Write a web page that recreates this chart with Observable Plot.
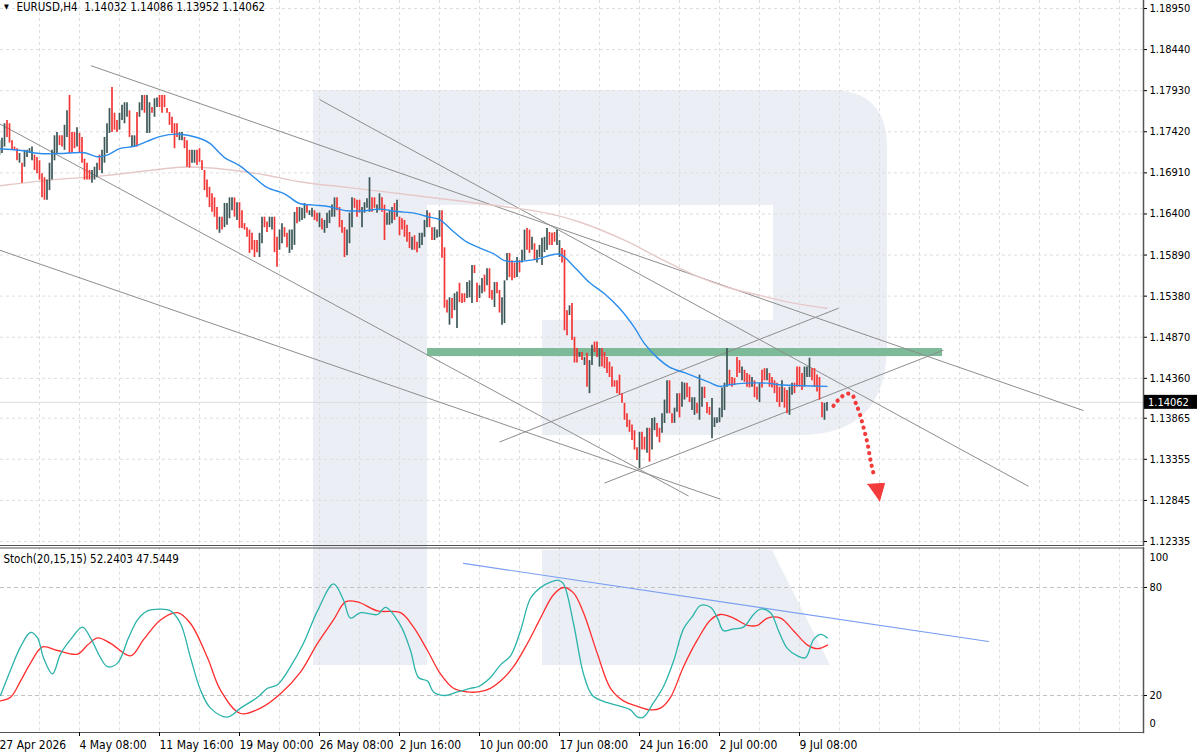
<!DOCTYPE html>
<html><head><meta charset="utf-8">
<script src="https://cdn.jsdelivr.net/npm/d3@7"></script>
<script src="https://cdn.jsdelivr.net/npm/@observablehq/plot@0.6"></script>
<style>
html,body{margin:0;padding:0;background:#fff;}
#wrap{position:relative;width:1200px;height:756px;overflow:hidden;background:#fff;}
#main,#stoch{position:absolute;left:0;}
#main{top:0;z-index:2;} #stoch{top:546px;z-index:1;}
svg{display:block;}
</style></head><body><div id="wrap"><div id="main"></div><div id="stoch"></div></div>
<script>
const FONT = "'DejaVu Sans Condensed','Liberation Sans',sans-serif";

// ---- labels / ticks
const symbol = "EURUSD,H4";
const ohlc = [1.14032, 1.14086, 1.13952, 1.14062];
const lastClose = 1.14062;
const stochParams = [20, 15, 15];
const stochLast = [52.2403, 47.5449];
const timeLabels = ["27 Apr 2026","4 May 08:00","11 May 16:00","19 May 00:00","26 May 08:00","2 Jun 16:00","10 Jun 00:00","17 Jun 08:00","24 Jun 16:00","2 Jul 00:00","9 Jul 08:00"];
const timeTickIdx = [0,32,64,96,128,160,192,224,256,288,320];
const priceTicks = [1.18950,1.18440,1.17930,1.17420,1.16910,1.16400,1.15890,1.15380,1.14870,1.14360,1.13865,1.13355,1.12845,1.12335];
const stochLevels = [80, 20];

// ---- H4 candles (bar index = position), open / close
const opens = [
1.1713,1.1715,1.1723,1.1756,1.1752,1.1731,1.1723,1.1721,1.1703,1.1703,1.1698,1.1710,1.1715,1.1706,1.1713,1.1710,1.1706,1.1690,1.1685,1.1657,1.1669,1.1682,1.1706,1.1715,1.1737,1.1737,1.1719,1.1735,1.1787,1.1741,1.1741,1.1723,
1.1740,1.1735,1.1708,1.1703,1.1694,1.1678,1.1682,1.1685,1.1713,1.1690,1.1703,1.1715,1.1740,1.1797,1.1765,1.1756,1.1744,1.1756,1.1752,1.1760,1.1768,1.1723,1.1723,1.1766,1.1760,1.1768,1.1787,1.1740,1.1740,1.1772,1.1760,1.1772,
1.1787,1.1787,1.1787,1.1771,1.1766,1.1760,1.1752,1.1752,1.1731,1.1731,1.1735,1.1731,1.1719,1.1703,1.1703,1.1719,1.1721,1.1706,1.1694,1.1682,1.1673,1.1665,1.1660,1.1648,1.1616,1.1636,1.1623,1.1626,1.1634,1.1644,1.1660,1.1632,
1.1654,1.1644,1.1628,1.1623,1.1620,1.1616,1.1607,1.1607,1.1586,1.1603,1.1636,1.1630,1.1623,1.1620,1.1636,1.1611,1.1595,1.1603,1.1623,1.1616,1.1591,1.1595,1.1601,1.1648,1.1630,1.1632,1.1634,1.1651,1.1638,1.1636,1.1644,1.1641,
1.1623,1.1634,1.1616,1.1622,1.1628,1.1636,1.1636,1.1660,1.1648,1.1632,1.1623,1.1588,1.1603,1.1623,1.1659,1.1657,1.1657,1.1623,1.1641,1.1647,1.1642,1.1660,1.1660,1.1641,1.1644,1.1660,1.1651,1.1626,1.1626,1.1628,1.1653,1.1636,
1.1636,1.1634,1.1632,1.1626,1.1617,1.1595,1.1613,1.1605,1.1597,1.1601,1.1611,1.1623,1.1641,1.1623,1.1607,1.1610,1.1611,1.1644,1.1598,1.1533,1.1502,1.1535,1.1520,1.1498,1.1554,1.1541,1.1541,1.1535,1.1536,1.1529,1.1576,1.1554,
1.1535,1.1541,1.1564,1.1551,1.1572,1.1545,1.1524,1.1555,1.1545,1.1502,1.1504,1.1557,1.1591,1.1582,1.1579,1.1561,1.1582,1.1579,1.1582,1.1622,1.1620,1.1595,1.1603,1.1579,1.1586,1.1576,1.1592,1.1595,1.1617,1.1616,1.1617,1.1601,
1.1586,1.1597,1.1595,1.1520,1.1514,1.1529,1.1487,1.1473,1.1462,1.1468,1.1452,1.1467,1.1417,1.1452,1.1481,1.1481,1.1450,1.1473,1.1468,1.1462,1.1456,1.1450,1.1433,1.1433,1.1440,1.1417,1.1405,1.1392,1.1384,1.1378,1.1371,1.1350,
1.1324,1.1369,1.1363,1.1343,1.1374,1.1347,1.1371,1.1380,1.1374,1.1368,1.1380,1.1392,1.1433,1.1392,1.1380,1.1394,1.1417,1.1400,1.1409,1.1430,1.1425,1.1396,1.1390,1.1405,1.1384,1.1400,1.1425,1.1406,1.1400,1.1361,1.1375,1.1380,
1.1381,1.1387,1.1396,1.1425,1.1446,1.1437,1.1436,1.1462,1.1458,1.1433,1.1446,1.1442,1.1440,1.1425,1.1433,1.1425,1.1406,1.1446,1.1448,1.1433,1.1442,1.1437,1.1433,1.1430,1.1425,1.1406,1.1424,1.1421,1.1390,1.1415,1.1430,1.1450,
1.1450,1.1442,1.1425,1.1437,1.1437,1.1448,1.1448,1.1440,1.1437,1.1406,1.1384,1.1395];
const closes = [
1.1731,1.1734,1.1752,1.1735,1.1728,1.1719,1.1719,1.1706,1.1715,1.1678,1.1719,1.1719,1.1721,1.1723,1.1694,1.1690,1.1682,1.1660,1.1657,1.1682,1.1703,1.1719,1.1737,1.1741,1.1725,1.1723,1.1750,1.1768,1.1715,1.1716,1.1721,1.1747,
1.1715,1.1703,1.1682,1.1682,1.1682,1.1694,1.1698,1.1703,1.1694,1.1719,1.1735,1.1752,1.1771,1.1741,1.1744,1.1741,1.1765,1.1775,1.1778,1.1778,1.1735,1.1737,1.1737,1.1723,1.1778,1.1787,1.1765,1.1787,1.1778,1.1765,1.1783,1.1784,
1.1772,1.1765,1.1772,1.1765,1.1750,1.1740,1.1721,1.1735,1.1741,1.1741,1.1721,1.1698,1.1697,1.1719,1.1719,1.1700,1.1704,1.1694,1.1669,1.1660,1.1648,1.1642,1.1636,1.1620,1.1636,1.1620,1.1653,1.1653,1.1660,1.1660,1.1636,1.1654,
1.1622,1.1622,1.1620,1.1611,1.1591,1.1595,1.1586,1.1592,1.1616,1.1636,1.1623,1.1617,1.1636,1.1636,1.1592,1.1574,1.1620,1.1628,1.1611,1.1598,1.1620,1.1620,1.1642,1.1628,1.1648,1.1647,1.1653,1.1641,1.1644,1.1647,1.1632,1.1630,
1.1641,1.1620,1.1632,1.1641,1.1644,1.1651,1.1660,1.1644,1.1623,1.1616,1.1586,1.1620,1.1641,1.1660,1.1647,1.1636,1.1641,1.1648,1.1654,1.1659,1.1685,1.1642,1.1647,1.1651,1.1665,1.1642,1.1607,1.1641,1.1644,1.1648,1.1632,1.1657,
1.1613,1.1620,1.1611,1.1605,1.1597,1.1611,1.1595,1.1592,1.1616,1.1616,1.1632,1.1644,1.1623,1.1607,1.1623,1.1620,1.1644,1.1585,1.1523,1.1517,1.1536,1.1510,1.1541,1.1543,1.1530,1.1529,1.1530,1.1555,1.1557,1.1576,1.1566,1.1530,
1.1551,1.1560,1.1543,1.1572,1.1535,1.1533,1.1555,1.1541,1.1517,1.1536,1.1557,1.1591,1.1561,1.1557,1.1560,1.1586,1.1567,1.1595,1.1620,1.1595,1.1591,1.1611,1.1582,1.1595,1.1601,1.1610,1.1611,1.1622,1.1601,1.1601,1.1605,1.1620,
1.1607,1.1579,1.1495,1.1489,1.1526,1.1483,1.1455,1.1455,1.1468,1.1458,1.1462,1.1425,1.1458,1.1477,1.1468,1.1462,1.1473,1.1450,1.1448,1.1442,1.1437,1.1425,1.1425,1.1417,1.1415,1.1405,1.1384,1.1375,1.1369,1.1359,1.1347,1.1334,
1.1369,1.1347,1.1347,1.1374,1.1332,1.1386,1.1387,1.1363,1.1356,1.1392,1.1409,1.1433,1.1392,1.1380,1.1399,1.1417,1.1387,1.1431,1.1430,1.1412,1.1406,1.1412,1.1412,1.1392,1.1440,1.1425,1.1411,1.1392,1.1390,1.1411,1.1387,1.1387,
1.1399,1.1424,1.1430,1.1473,1.1427,1.1425,1.1427,1.1437,1.1442,1.1450,1.1431,1.1425,1.1424,1.1437,1.1412,1.1409,1.1430,1.1424,1.1433,1.1448,1.1425,1.1424,1.1417,1.1406,1.1400,1.1433,1.1399,1.1392,1.1425,1.1430,1.1417,1.1425,
1.1425,1.1421,1.1450,1.1450,1.1461,1.1433,1.1425,1.1419,1.1409,1.1387,1.1405,1.1406];

// ---- moving averages (bar index, price)
const maBlueIdx = [0,8,16,24,34,39,43,48,54,59,64,72,80,84,90,96,102,107,114,120,126,132,139,146,152,159,166,172,176,182,187,192,198,202,207,215,224,230,236,242,248,254,258,263,268,274,279,284,288,292,299,307,312,320,331];
const maBlue = [1.1721,1.1719,1.1715,1.1715,1.1716,1.1711,1.1713,1.1721,1.1724,1.1730,1.1736,1.1739,1.1734,1.1728,1.1710,1.1700,1.1685,1.1673,1.1665,1.1653,1.1651,1.1649,1.1644,1.1644,1.1646,1.1643,1.1641,1.1636,1.1633,1.1617,1.1605,1.1598,1.1590,1.1582,1.1581,1.1584,1.1590,1.1574,1.1555,1.1541,1.1523,1.1499,1.1479,1.1462,1.1450,1.1443,1.1437,1.1431,1.1426,1.1428,1.1430,1.1430,1.1428,1.1427,1.1426];
const maPinkIdx = [0,20,40,60,72,80,94,107,120,139,166,192,219,232,251,264,278,291,304,318,331];
const maPink = [1.1675,1.1682,1.1687,1.1694,1.1698,1.1698,1.1694,1.1688,1.1680,1.1673,1.1663,1.1653,1.1641,1.1630,1.1606,1.1585,1.1564,1.1549,1.1539,1.1529,1.1523];

// ---- drawn objects
const trendX1 = [36.6, 128, -3.6, -3.6, 242, 200];
const trendY1 = [1.1824, 1.1782, 1.1758, 1.1599, 1.1306, 1.1357];
const trendX2 = [433.6, 411.6, 275.6, 288.4, 377.6, 335.6];
const trendY2 = [1.1396, 1.1302, 1.1290, 1.1286, 1.1471, 1.1523];
const bandX = [171.2, 377.2];
const bandY = [1.1463, 1.1473];
const arrowIdx = [333.6, 336.4, 339.2, 341.2, 342.4, 344, 345.6, 347.2, 348.4, 349.6];
const arrowVal = [1.1402, 1.1412, 1.1417, 1.1415, 1.1406, 1.1393, 1.1375, 1.1355, 1.1334, 1.1318];
const headIdx = [347.2, 354, 352];
const headVal = [1.13044, 1.13056, 1.12836];

// ---- stochastic (bar index, value)
const kIdx = [0.4,4.4,8.4,12.4,15.2,17.6,21.2,24.4,28.4,33.2,36.4,40.4,43.2,47.2,51.6,55.2,59.2,64.4,68.4,72.4,76.4,80.4,84.4,91.2,96.4,103.2,107.2,111.2,116.4,121.6,127.2,133.6,137.6,140.4,144.4,151.2,154.4,160.4,164.4,167.6,171.2,173.6,178.4,183.2,188.4,191.6,196.4,200.4,204.4,208.4,212.4,216.4,220.4,223.6,225.6,229.6,233.6,237.2,243.2,248.4,252.4,255.2,257.6,261.6,265.6,269.6,273.6,277.2,280.4,284.4,287.2,289.6,293.6,297.6,301.6,304.4,308.4,311.6,315.2,319.2,322.4,325.6,328.4,331.2];
const kVal = [20,34,47,55,52,41,32,43,51,58,52,41,36,38,52,62,67,68,67,60,41,23,13,8,13,19,24,26,36,49,67,82,73,63,66,65,69,59,45,30,28,22,20,22,24,25,30,37,42,56,74,80,83,84,82,60,32,20,16,14,12,8,8,16,25,39,57,64,70,69,63,56,57,58,65,68,66,56,46,42,41,51,54,52];
const dIdx = [0.4,4.4,8.4,12.4,17.2,23.2,31.2,35.2,39.2,44.4,52.4,57.6,64.4,71.2,76.4,83.2,88.4,96.4,104.4,112.4,120.4,127.2,133.6,138.4,143.2,151.2,160.4,165.6,171.2,176.4,181.6,187.2,191.6,196.4,200.4,205.6,211.2,216.4,221.6,225.6,229.6,233.6,239.2,244.4,249.6,255.2,260.4,264.4,268.4,273.6,279.2,284.4,288.4,293.6,299.2,303.2,307.2,312.4,317.6,323.2,327.2,331.2];
const dVal = [17,19,28,38,47,45,43,48,52,49,42,51,62,66,60,41,23,10,13,21,33,49,62,72,72,67,66,58,45,32,24,22,22,24,28,36,49,63,76,80,77,66,43,24,17,14,12,13,19,36,51,62,65,63,59,59,63,63,56,48,46,48];
const stTrendIdx = [185.6, 395.6];
const stTrendVal = [93.4, 50];

// ---- tables
const pts = (xs, ys) => xs.map((i, k) => ({i, v: ys[k]}));
const candles = opens.map((o, i) => ({i, o, c: closes[i]}));
const up = candles.filter(d => d.c >= d.o);
const down = candles.filter(d => d.c < d.o);
const trend = trendX1.map((x1, k) => ({x1, y1: trendY1[k], x2: trendX2[k], y2: trendY2[k]}));
const band = [{x1: bandX[0], x2: bandX[1], y1: bandY[0], y2: bandY[1]}];
const gridIdx = d3.range(0, 464, 16);

const W = 1200, MR = 57;
const X = {type: "linear", domain: [0, 400], range: [-1, 999], axis: null};
const GRID = {stroke: "#dedede", strokeOpacity: 1, strokeDasharray: "3,3"};
const RED = "#f23535", DARK = "#3d5757";

const header = `${symbol}\u00a0\u00a0${ohlc.map(d => d.toFixed(5)).join(" ")}`;

const main = Plot.plot({
  width: W, height: 546,
  marginLeft: 0, marginRight: MR, marginTop: 0, marginBottom: 1,
  style: {fontFamily: FONT, fontSize: "11px", color: "#000", background: "transparent", overflow: "visible"},
  x: X,
  y: {domain: [1.12335, 1.18950], range: [541, 8], axis: null},
  marks: [
    Plot.gridX(gridIdx, GRID),
    Plot.gridY(priceTicks, GRID),
    Plot.ruleY([lastClose], {stroke: "#dcdcdc"}),
    Plot.rect(band, {x1: "x1", x2: "x2", y1: "y1", y2: "y2", fill: "#7cba98"}),
    Plot.link(trend, {x1: "x1", y1: "y1", x2: "x2", y2: "y2", stroke: "#8d8d8d", strokeWidth: 1}),
    Plot.line(pts(maPinkIdx, maPink), {x: "i", y: "v", stroke: "#e6c8c8", strokeWidth: 1.4, curve: "catmull-rom"}),
    Plot.ruleX(up, {x: "i", y1: "o", y2: "c", stroke: DARK, strokeWidth: 1.7}),
    Plot.ruleX(down, {x: "i", y1: "o", y2: "c", stroke: RED, strokeWidth: 1.7}),
    Plot.line(pts(maBlueIdx, maBlue), {x: "i", y: "v", stroke: "#2a8cec", strokeWidth: 1.4, curve: "catmull-rom"}),
    Plot.line(pts(arrowIdx, arrowVal), {x: "i", y: "v", stroke: "#f43b3b", strokeWidth: 4.2, strokeDasharray: "0.1,6.4", strokeLinecap: "round", curve: "catmull-rom"}),
    Plot.line(pts(headIdx, headVal), {x: "i", y: "v", fill: "#f43b3b", stroke: "#f43b3b", strokeWidth: 1, strokeLinejoin: "round"}),
    Plot.frame({anchor: "right", stroke: "#555", strokeWidth: 1.5}),
    Plot.frame({anchor: "bottom", stroke: "#555"}),
    Plot.axisY(priceTicks, {anchor: "right", label: null, tickFormat: d => d.toFixed(5), tickSize: 3, tickPadding: 3, fontSize: 11}),
    Plot.text(["▼"], {frameAnchor: "top-left", dx: 6, dy: 4, lineAnchor: "top", textAnchor: "middle", fontSize: 7}),
    Plot.text([header], {frameAnchor: "top-left", dx: 16, dy: 2, lineAnchor: "top", textAnchor: "start", fontSize: 11.5})
  ]
});

// watermark logo (background decoration)
d3.select(main).insert("path", ":first-child")
  .attr("d", "M313,90 H830 Q887,90 887,147 V345 Q887,435 800,435 H542 V320 H773 V205 H427 V546 H313 Z")
  .attr("fill", "#ebeff5");

// current price label on the price axis
{
  const py = main.scale("y").apply(lastClose);
  const g = d3.select(main).append("g");
  g.append("rect").attr("x", W - MR + 1).attr("y", py - 7).attr("width", 53).attr("height", 14).attr("fill", "#000");
  g.append("text").attr("x", W - MR + 5).attr("y", py).attr("dy", "0.36em").attr("fill", "#fff")
    .attr("text-anchor", "start")
    .style("font-family", FONT).style("font-size", "11px").text(lastClose.toFixed(5));
}
document.getElementById("main").appendChild(main);

const stochHeader = `Stoch(${stochParams.join(",")}) ${stochLast[0].toFixed(4)} ${stochLast[1].toFixed(4)}`;

const stoch = Plot.plot({
  width: W, height: 210,
  marginLeft: 0, marginRight: MR, marginTop: 1.5, marginBottom: 24,
  style: {fontFamily: FONT, fontSize: "11px", color: "#000", background: "transparent"},
  x: X,
  y: {domain: [0, 100], range: [185, 5], axis: null},
  marks: [
    Plot.gridX(gridIdx, GRID),
    Plot.ruleY(stochLevels, {stroke: "#c2c2c2", strokeDasharray: "4,3"}),
    Plot.line(pts(stTrendIdx, stTrendVal), {x: "i", y: "v", stroke: "#7b9ff2", strokeWidth: 1.2}),
    Plot.line(pts(dIdx, dVal), {x: "i", y: "v", stroke: "#ff2d2d", strokeWidth: 1.3, curve: "catmull-rom"}),
    Plot.line(pts(kIdx, kVal), {x: "i", y: "v", stroke: "#2bb3aa", strokeWidth: 1.3, curve: "catmull-rom"}),
    Plot.frame({anchor: "top", stroke: "#555"}),
    Plot.frame({anchor: "bottom", stroke: "#555"}),
    Plot.frame({anchor: "right", stroke: "#555", strokeWidth: 1.5}),
    Plot.axisX(timeTickIdx, {anchor: "bottom", label: null, tickFormat: d => timeLabels[timeTickIdx.indexOf(d)], textAnchor: "start", tickSize: 4, tickPadding: 4, fontSize: 12}),
    Plot.axisY(stochLevels, {anchor: "right", label: null, tickSize: 3, tickPadding: 3, fontSize: 11}),
    Plot.axisY([100], {anchor: "right", label: null, tickSize: 0, tickPadding: 6, dy: 6, fontSize: 11}),
    Plot.axisY([0], {anchor: "right", label: null, tickSize: 0, tickPadding: 6, dy: -8, fontSize: 11}),
    Plot.text([stochHeader], {frameAnchor: "top-left", dx: 3, dy: 7, lineAnchor: "top", textAnchor: "start", fontSize: 11.5})
  ]
});
d3.select(stoch).insert("path", ":first-child")
  .attr("d", "M313,0 H427 V119 H313 Z M542,4 H772 L830,119 H542 Z")
  .attr("fill", "#ebeff5");
document.getElementById("stoch").appendChild(stoch);
</script>
</body></html>
